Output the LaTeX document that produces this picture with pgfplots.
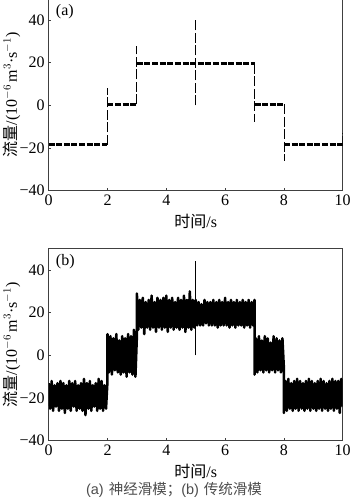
\documentclass[border=0pt]{standalone}
\usepackage{pgfplots}
\pgfplotsset{compat=1.18}
\usepackage{pgfplotstable}
\usepackage{fontspec}
\setmainfont{Liberation Serif}
\setsansfont{Liberation Sans}
\newfontfamily\cjk{Noto Sans CJK SC}

\pgfplotstableread{
x y
0.00 -13
0.05 -25
0.10 -12
0.15 -26
0.20 -14
0.25 -24
0.30 -13
0.35 -26
0.40 -12
0.45 -25
0.50 -13
0.55 -27
0.60 -14
0.65 -25
0.70 -12
0.75 -26
0.80 -13
0.85 -24
0.90 -12
0.95 -26
1.00 -14
1.05 -25
1.10 -13
1.15 -26
1.20 -11
1.25 -28
1.30 -13
1.35 -25
1.40 -12
1.45 -26
1.50 -14
1.55 -24
1.60 -13
1.65 -26
1.70 -11
1.75 -25
1.80 -12
1.85 -26
1.90 -14
1.95 -25
2.00 -12
2.00 10
2.05 -8
2.10 9
2.15 -9
2.20 8
2.25 -7
2.30 10
2.35 -8
2.40 7
2.45 -9
2.50 9
2.55 -8
2.60 8
2.65 -10
2.70 10
2.75 -8
2.80 9
2.85 -9
2.90 12
2.95 -10
3.00 9
3.00 29
3.05 12
3.10 26
3.15 13
3.20 27
3.25 10
3.30 25
3.35 13
3.40 26
3.45 12
3.50 28
3.55 13
3.60 25
3.65 11
3.70 27
3.75 13
3.80 26
3.85 12
3.90 27
3.95 13
4.00 28
4.05 11
4.10 26
4.15 13
4.20 27
4.25 12
4.30 25
4.35 13
4.40 27
4.45 12
4.50 26
4.55 13
4.60 28
4.65 11
4.70 26
4.75 13
4.80 30
4.85 12
4.90 26
4.95 13
5.00 26
5.05 14
5.10 25
5.15 14
5.20 24
5.25 14
5.30 26
5.35 15
5.40 25
5.45 14
5.50 25
5.55 14
5.60 26
5.65 14
5.70 25
5.75 13
5.80 26
5.85 14
5.90 25
5.95 14
6.00 27
6.05 14
6.10 25
6.15 13
6.20 26
6.25 14
6.30 25
6.35 13
6.40 26
6.45 14
6.50 25
6.55 14
6.60 26
6.65 13
6.70 25
6.75 14
6.80 26
6.85 13
6.90 25
6.95 14
7.00 26
7.00 -9
7.05 8
7.10 -8
7.15 9
7.20 -7
7.25 7
7.30 -8
7.35 9
7.40 -7
7.45 8
7.50 -8
7.55 6
7.60 -7
7.65 9
7.70 -8
7.75 8
7.80 -7
7.85 7
7.90 -8
7.95 8
8.00 -6
8.00 -27
8.05 -12
8.10 -26
8.15 -11
8.20 -25
8.25 -13
8.30 -26
8.35 -12
8.40 -25
8.45 -11
8.50 -26
8.55 -12
8.60 -25
8.65 -13
8.70 -26
8.75 -12
8.80 -25
8.85 -11
8.90 -26
8.95 -12
9.00 -25
9.05 -13
9.10 -26
9.15 -12
9.20 -25
9.25 -11
9.30 -26
9.35 -12
9.40 -25
9.45 -13
9.50 -26
9.55 -12
9.60 -25
9.65 -11
9.70 -26
9.75 -12
9.80 -25
9.85 -12
9.90 -27
9.95 -11
10.00 -24
}\tradsmc

\pgfplotsset{
  panel/.style={
    scale only axis,
    width=294pt, height=192pt,
    xmin=0, xmax=10, ymin=-40, ymax=50,
    xtick={0,2,4,6,8,10},
    ytick={-40,-20,0,20,40},
    yticklabels={−40,−20,0,20,40},
    tick align=inside,
    xtick pos=bottom, ytick pos=left,
    major tick length=2.5pt,
    axis line style={black!75, line width=0.7pt},
    tick style={black!75, line width=0.6pt},
    tick label style={font=\fontsize{16}{16}\selectfont},
    /pgf/number format/assume math mode=true,
    xticklabel style={yshift=-0.5pt},
    yticklabel style={xshift=-0.5pt},
    xlabel={{\cjk 时间}/s},
    ylabel={{\cjk 流量}/(10$^{-6}$\,m$^{3}$·s$^{-1}$)},
    label style={font=\fontsize{16}{16}\selectfont},
    xlabel style={at={(axis description cs:0.5,-0.158)}, anchor=center},
    ylabel style={at={(axis description cs:-0.125,0.5)}, anchor=center},
    clip=true,
  }
}

\begin{document}
\begin{tikzpicture}
\useasboundingbox (0,0) rectangle (350pt,504pt);

% (a) neural sliding mode
\begin{axis}[panel, at={(48.7pt,313.3pt)}, anchor=south west]
\addplot[black, line width=0.8pt, dash pattern=on 10pt off 2.5pt, unbounded coords=jump] coordinates {
(2,-18.5) (2,8) (nan,nan)
(3,0.5) (3,28) (nan,nan)
(5,0) (5,41) (nan,nan)
(7,19.5) (7,-8) (nan,nan)
(8,0.5) (8,-26) (nan,nan)
(10,-19) (10,-13)
};
\addplot[black, line width=3pt, dash pattern=on 6pt off 1.6pt, unbounded coords=jump] coordinates {
(0,-18.5) (2,-18.5) (nan,nan)
(2,0.5) (3,0.5) (nan,nan)
(3,19.5) (7,19.5) (nan,nan)
(7,0.5) (8,0.5) (nan,nan)
(8,-18.5) (10,-18.5)
};
\node[anchor=north west, font=\fontsize{16}{16}\selectfont, inner sep=0pt] at (axis description cs:0.024,0.97) {(a)};
\end{axis}

% (b) traditional sliding mode
\begin{axis}[panel, at={(48.7pt,63.3pt)}, anchor=south west]
\addplot[black, line width=2.5pt, line join=round] table[x=x, y=y] {\tradsmc};
\addplot[black, line width=0.8pt] coordinates {(5,0) (5,44)};
\node[anchor=north west, font=\fontsize{16}{16}\selectfont, inner sep=0pt] at (axis description cs:0.024,0.97) {(b)};
\end{axis}

\node[font=\fontsize{14.5}{15}\selectfont\sffamily, text=black!70] at (174pt,14pt) {(a)\hspace{5pt}{\cjk 神经滑模；}(b)\hspace{5pt}{\cjk 传统滑模}};
\end{tikzpicture}
\end{document}
